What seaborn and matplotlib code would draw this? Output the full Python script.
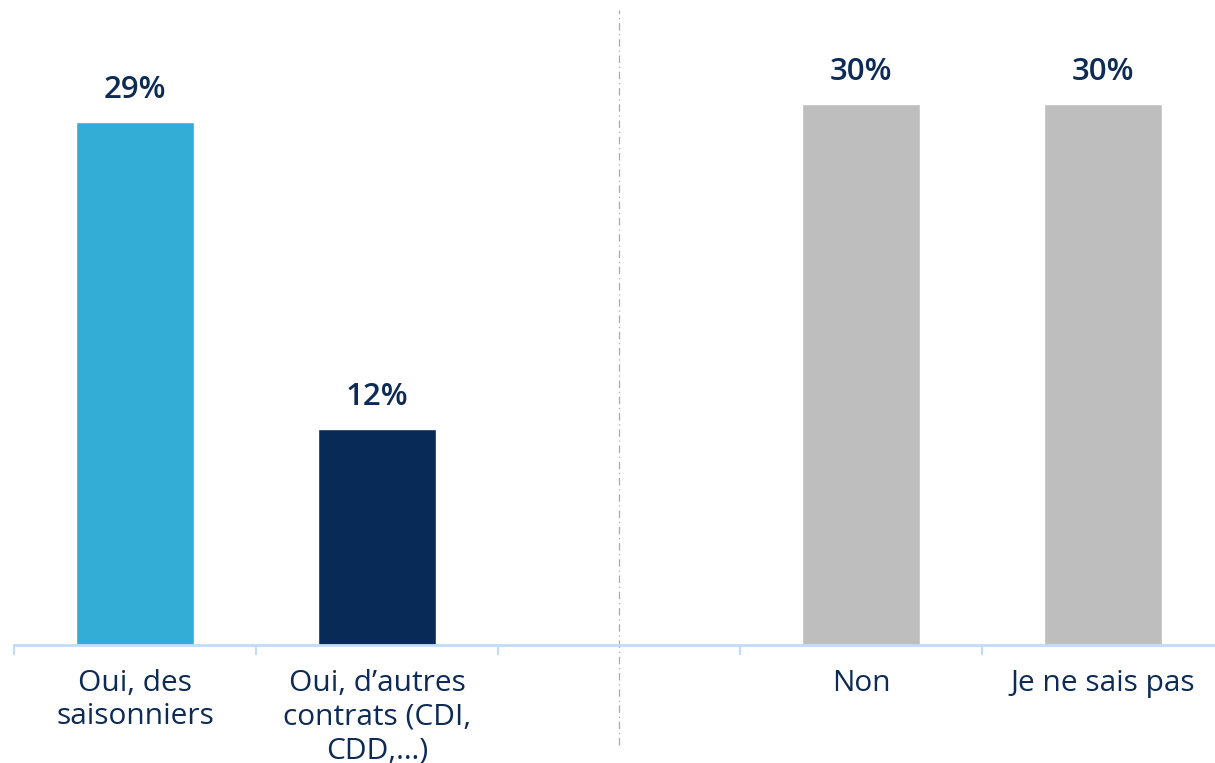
import pandas as pd
import numpy as np
import matplotlib.pyplot as plt
import seaborn as sns

# categories (empty slot in the middle separates the two groups)
categories = ["Oui, des\nsaisonniers", "Oui, d\u2019autres\ncontrats (CDI,\nCDD,\u2026)", " ", "Non", "Je ne sais pas"]
values = [29, 12, None, 30, 30]
labels = ["29%", "12%", "", "30%", "30%"]
bar_colors = ["#33ADD6", "#082A57", "#FFFFFF", "#BEBEBE", "#BEBEBE"]

text_color = "#0D2B55"
axis_color = "#BFDDF8"

sns.set_style("white")
plt.rcParams['font.family'] = ['Open Sans', 'DejaVu Sans']

df = pd.DataFrame({"cat": categories, "val": values}).dropna()

fig = plt.figure(figsize=(12.15, 7.63), dpi=100)
ax = fig.add_axes([14 / 1215, 118 / 763, 1210 / 1215, 645 / 763])

sns.barplot(data=df, x="cat", y="val", order=categories, hue="cat",
            hue_order=categories, palette=bar_colors, legend=False,
            width=0.485, saturation=1, ax=ax)

ax.set_xlim(-0.5, 4.5)
ax.set_ylim(0, 35.77)

# value labels
for i, (v, lab) in enumerate(zip(values, labels)):
    if v is None:
        continue
    ax.annotate(lab, (i, v), xytext=(0, 12), textcoords="offset points",
                ha="center", va="bottom", fontsize=22.5, fontweight="semibold",
                color=text_color)

# axes styling
for s in ["left", "right", "top"]:
    ax.spines[s].set_visible(False)
ax.spines["bottom"].set_color(axis_color)
ax.spines["bottom"].set_linewidth(2)
ax.set_yticks([])
ax.set_xlabel("")
ax.set_ylabel("")
ax.set_xticks(range(len(categories)))
ax.set_xticklabels(categories, fontsize=21.5, color=text_color,
                   linespacing=1.22, fontweight="medium", va="top")
ax.tick_params(axis="x", which="major", length=0, pad=17)
ax.set_xticks(np.arange(-0.5, 5.0, 1.0), minor=True)
ax.tick_params(axis="x", which="minor", bottom=True, length=7, width=1.5,
               color=axis_color, direction="out")

# separator between the two groups
ax.axvline(2, ymin=-0.155, ymax=0.985, color="#AAAAAA", lw=0.9,
           ls=(0, (6, 3, 1, 3)), clip_on=False)

fig.savefig("out.png", dpi=100)
